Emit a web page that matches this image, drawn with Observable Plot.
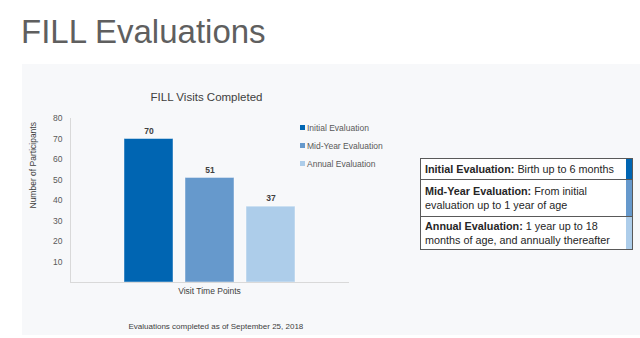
<!DOCTYPE html>
<html>
<head>
<meta charset="utf-8">
<script src="https://cdn.jsdelivr.net/npm/d3@7"></script>
<script src="https://cdn.jsdelivr.net/npm/@observablehq/plot@0.6"></script>
<style>
  html, body { margin: 0; padding: 0; background: #fff; font-family: "Liberation Sans", Arial, sans-serif; }
  #page { position: relative; width: 640px; height: 338px; overflow: hidden; }
  #title { position: absolute; left: 21px; top: 13px; font-size: 33px; color: #5f5f5f; }
  #panel { position: absolute; left: 22px; top: 64px; width: 618px; height: 271px; background: #f7f8fa; }
  #chart { position: absolute; left: 0; top: 0; }
  #legend { position: absolute; left: 300px; top: 123px; font-size: 8.5px; color: #595959; }
  #legend .item { height: 18px; display: flex; align-items: flex-start; }
  #legend .sw { width: 5px; height: 5px; margin-right: 2px; margin-top: 2px; }
  #desc { position: absolute; left: 420px; top: 158px; width: 213px; border-collapse: collapse; font-size: 10.8px; color: #262626; background: #fff; }
  #desc td { border: 1px solid #595959; padding: 1px 2px 1px 4px; line-height: 14px; }
  #desc td.strip { width: 6px; padding: 0; border-left: none; }
  #desc td.txt { border-right: none; }
  #desc .ln { white-space: nowrap; }
</style>
</head>
<body>
<div id="page">
  <div id="panel"></div>
  <div id="title">FILL Evaluations</div>
  <div id="chart"></div>
  <div id="legend"></div>
  <table id="desc"></table>
</div>
<script>
const categories = ["Initial Evaluation", "Mid-Year Evaluation", "Annual Evaluation"];
const values = [70, 51, 37];
const colors = ["#0065b2", "#6699cc", "#adcdea"];
const yTicks = [10, 20, 30, 40, 50, 60, 70, 80];
const chartTitle = "FILL Visits Completed";
const xLabel = "Visit Time Points";
const yLabel = "Number of Participants";
const footnote = "Evaluations completed as of September 25, 2018";
const descBold = ["Initial Evaluation:", "Mid-Year Evaluation:", "Annual Evaluation:"];
const descLine1 = [" Birth up to 6 months", " From initial", " 1 year up to 18"];
const descLine2 = ["", "evaluation up to 1 year of age", "months of age, and annually thereafter"];

const data = categories.map((c, i) => ({cat: c, value: values[i], color: colors[i]}));

const chart = Plot.plot({
  width: 640,
  height: 338,
  marginLeft: 70,
  marginRight: 292,
  marginTop: 118,
  marginBottom: 56,
  style: {background: "transparent", fontFamily: "Liberation Sans, Arial, sans-serif", fontSize: "8px", color: "#595959"},
  x: {domain: categories, paddingInner: 0.2, paddingOuter: 0.864, axis: null},
  y: {domain: [0, 80], axis: null},
  marks: [
    Plot.barY(data, {x: "cat", y: "value", fill: "color", stroke: "#ffffff", strokeOpacity: 0.45, strokeWidth: 1}),
    Plot.text(data, {x: "cat", y: "value", text: d => String(d.value), dy: -8, fontWeight: "bold", fill: "#404040", fontSize: 8.5}),
    Plot.axisY({ticks: yTicks, tickSize: 0, tickPadding: 8, fill: "#595959", fontSize: 8.5, label: null}),
    Plot.frame({anchor: "left", stroke: "#d9d9d9"}),
    Plot.frame({anchor: "bottom", stroke: "#d9d9d9"}),
    Plot.text([xLabel], {frameAnchor: "bottom", dy: 11, text: d => d, fill: "#404040", fontSize: 8.5}),
    Plot.text([chartTitle], {frameAnchor: "top", dy: -26, dx: -3, text: d => d, fill: "#404040", fontSize: 11.5}),
    Plot.text([yLabel], {frameAnchor: "left", dx: -37, dy: 8, rotate: -90, text: d => d, fill: "#404040", fontSize: 8.5}),
    Plot.text([footnote], {frameAnchor: "bottom-left", dx: 58, dy: 46, textAnchor: "start", text: d => d, fill: "#404040", fontSize: 8})
  ]
});
document.getElementById("chart").appendChild(chart);

const legend = document.getElementById("legend");
categories.forEach((c, i) => {
  const item = document.createElement("div");
  item.className = "item";
  item.innerHTML = `<span class="sw" style="background:${colors[i]}"></span><span>${c}</span>`;
  legend.appendChild(item);
});

const table = document.getElementById("desc");
const heights = [21, 37, 33];
categories.forEach((c, i) => {
  const tr = document.createElement("tr");
  tr.style.height = heights[i] + "px";
  const l2 = descLine2[i] ? `<div class="ln">${descLine2[i]}</div>` : "";
  tr.innerHTML = `<td class="txt"><div class="ln"><b>${descBold[i]}</b><span>${descLine1[i]}</span></div>${l2}</td><td class="strip" style="background:${colors[i]}"></td>`;
  table.appendChild(tr);
});
</script>
</body>
</html>
